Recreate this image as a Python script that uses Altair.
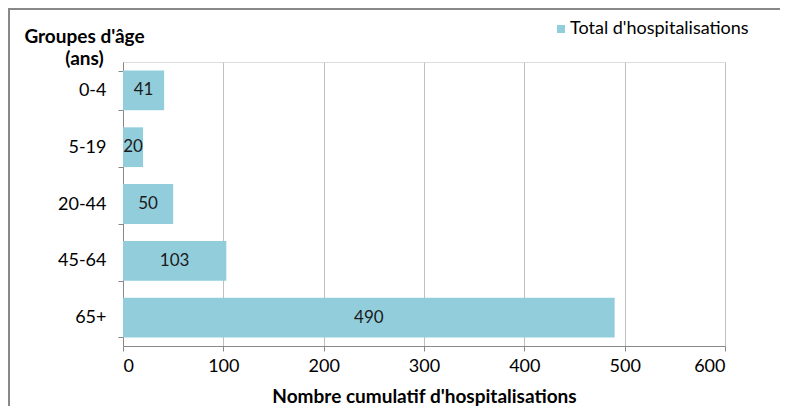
import altair as alt
import pandas as pd

groups = ["0-4", "5-19", "20-44", "45-64", "65+"]
values = [41, 20, 50, 103, 490]
series_name = "Total d'hospitalisations"
x_ticks = [0, 100, 200, 300, 400, 500, 600]

df = pd.DataFrame({"groupe": groups, "total": values, "serie": [series_name] * len(groups)})

FONT = "Lato"
BAR = "#92CDDC"

base = alt.Chart(df)

bars = base.mark_bar(color=BAR).encode(
    y=alt.Y("groupe:N", sort=groups,
            scale=alt.Scale(paddingInner=0.3, paddingOuter=0.15),
            axis=alt.Axis(title=["Groupes d'âge", "(ans)"], titleAngle=0,
                          titleX=-39, titleY=-20, titleAlign="center",
                          titleBaseline="alphabetic", titleLineHeight=22,
                          titleFont=FONT, titleFontSize=19, titleFontWeight="bold",
                          titleColor="#000000",
                          labelFont=FONT, labelFontSize=18, labelColor="#000000",
                          labelPadding=12, tickBand="extent", tickSize=5,
                          tickColor="#888888", domainColor="#888888", grid=False)),
    x=alt.X("total:Q", scale=alt.Scale(domain=[0, 600], nice=False),
            axis=alt.Axis(values=x_ticks, title="Nombre cumulatif d'hospitalisations",
                          titleFont=FONT, titleFontSize=19, titleFontWeight="bold",
                          titleColor="#000000", titlePadding=12,
                          labelFont=FONT, labelFontSize=18, labelColor="#000000",
                          labelPadding=6, tickSize=5, tickColor="#888888",
                          domainColor="#888888", grid=True, gridColor="#c0c0c0")),
    color=alt.Color("serie:N", scale=alt.Scale(range=[BAR]),
                    legend=alt.Legend(title=None, orient="none", legendX=429, legendY=-42,
                                      symbolType="square", symbolSize=64,
                                      symbolStrokeWidth=0, labelOffset=0, labelLimit=400,
                                      labelFont=FONT, labelFontSize=18,
                                      labelColor="#000000")),
)

labels = base.transform_calculate(mid="datum.total / 2").mark_text(
    font=FONT, fontSize=17, color="#1a1a1a", baseline="middle", align="center"
).encode(
    y=alt.Y("groupe:N", sort=groups),
    x=alt.X("mid:Q"),
    text=alt.Text("total:Q"),
)

one = pd.DataFrame({"a": [0]})
top_line = alt.Chart(one).mark_rule(stroke="#888888", strokeWidth=2).encode(
    x=alt.value(-115), x2=alt.value(660), y=alt.value(-53)
)
left_line = alt.Chart(one).mark_rule(stroke="#888888", strokeWidth=2).encode(
    x=alt.value(-114), y=alt.value(-54), y2=alt.value(420)
)

chart = alt.layer(bars, labels, top_line, left_line).properties(
    width=602, height=284,
    autosize=alt.AutoSizeParams(type="none"),
    padding={"left": 115, "top": 54, "right": 55, "bottom": 60},
).configure_view(stroke=None).configure(background="white")

chart.save("out.html", embed_options={"renderer": "svg", "actions": False})
